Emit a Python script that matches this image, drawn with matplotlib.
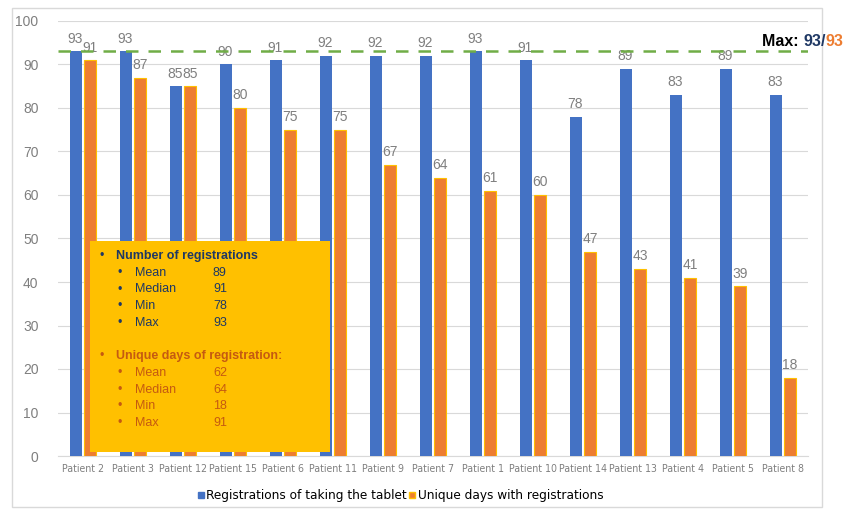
import numpy as np
import matplotlib
matplotlib.use("Agg")
import matplotlib.pyplot as plt
from matplotlib.patches import Rectangle
from matplotlib.lines import Line2D
from matplotlib.font_manager import FontProperties

patients = ["Patient 2", "Patient 3", "Patient 12", "Patient 15", "Patient 6", "Patient 11",
            "Patient 9", "Patient 7", "Patient 1", "Patient 10", "Patient 14", "Patient 13",
            "Patient 4", "Patient 5", "Patient 8"]
registrations = [93, 93, 85, 90, 91, 92, 92, 92, 93, 91, 78, 89, 83, 89, 83]
unique_days = [91, 87, 85, 80, 75, 75, 67, 64, 61, 60, 47, 43, 41, 39, 18]
max_line = 93

reg_stats = [("Mean", 89), ("Median", 91), ("Min", 78), ("Max", 93)]
day_stats = [("Mean", 62), ("Median", 64), ("Min", 18), ("Max", 91)]

plt.rcParams['font.family'] = ['Liberation Sans', 'DejaVu Sans']

blue = "#4472C4"
orange = "#ED7D31"
gold = "#FFC000"
gray = "#7F7F7F"
navy = "#1F3864"
brown = "#C55A11"

W, H = 853, 511
fig = plt.figure(figsize=(W / 100, H / 100), dpi=100)
ax = fig.add_axes([58 / W, 1 - 456 / H, 750 / W, 435 / H])

def fx(px):
    return px / W

def fy(py):
    return 1 - py / H

x = np.arange(len(patients))
b1 = ax.bar(x - 0.15, registrations, width=0.24, color=blue, zorder=3)
b2 = ax.bar(x + 0.14, unique_days, width=0.24, color=orange, edgecolor=gold, linewidth=0.8, zorder=3)
ax.bar_label(b1, padding=4, fontsize=10, color=gray)
ax.bar_label(b2, padding=4, fontsize=10, color=gray)

ax.axhline(max_line, color="#70AD47", linestyle=(0, (5, 4)), linewidth=1.8, zorder=4)

ax.set_xlim(-0.5, len(patients) - 0.5)
ax.set_ylim(0, 100)
ax.set_yticks(range(0, 101, 10))
ax.set_xticks(x)
ax.set_xticklabels(patients, fontsize=7.6, color=gray)
for lab in ax.get_xticklabels():
    lab.set_family('DejaVu Sans')
    lab.set_fontstretch('condensed')
ax.tick_params(axis='y', length=0, labelsize=10, labelcolor=gray, pad=14)
ax.tick_params(axis='x', length=0, pad=6)
ax.grid(axis='y', color="#D9D9D9", linewidth=0.8, zorder=0)
for s in ["top", "right", "left"]:
    ax.spines[s].set_visible(False)
ax.spines["bottom"].set_color("#D9D9D9")

# outer chart frame
fig.patches.append(Rectangle((12 / W, 1 - 507 / H), 810 / W, 499 / H, transform=fig.transFigure,
                             fill=False, edgecolor="#D9D9D9", linewidth=1))

# Max annotation, pieces placed one after another
renderer = fig.canvas.get_renderer()
px = 762
for s, c in [("Max: ", "black"), ("93", navy), ("/", navy), ("93", orange)]:
    t = fig.text(fx(px), fy(42), s, fontsize=11.5, fontweight="bold", color=c, va="center")
    px += t.get_window_extent(renderer).width

# statistics box
fig.patches.append(Rectangle((fx(90), fy(452)), (330 - 90) / W, (452 - 241) / H,
                             transform=fig.transFigure, facecolor=gold, edgecolor="none", zorder=5))

def box_text(px, py, s, color, bold=False):
    fig.text(fx(px), fy(py), s, fontsize=9, color=color, va="center", zorder=6,
             fontweight="bold" if bold else "normal")

box_text(100, 256, "•", navy)
box_text(116, 256, "Number of registrations", navy, bold=True)
for i, (k, v) in enumerate(reg_stats):
    py = 273 + i * 16.5
    box_text(118, py, "•", navy)
    box_text(135, py, k, navy)
    box_text(213, py, str(v), navy)
box_text(100, 356, "•", brown)
box_text(116, 356, "Unique days of registration:", brown, bold=True)
for i, (k, v) in enumerate(day_stats):
    py = 373 + i * 16.5
    box_text(118, py, "•", brown)
    box_text(135, py, k, brown)
    box_text(213, py, str(v), brown)

handles = [Line2D([], [], marker="s", linestyle="none", color=blue, markersize=5),
           Line2D([], [], marker="s", linestyle="none", color=orange, markeredgecolor=gold, markersize=5)]
fig.legend(handles, ["Registrations of taking the tablet", "Unique days with registrations"],
           loc="center", bbox_to_anchor=(fx(400), fy(496)), ncol=2, frameon=False,
           prop=FontProperties(family='DejaVu Sans', stretch='condensed', size=9.7),
           handletextpad=0.1, columnspacing=0.1, handlelength=0.6)

fig.savefig("out.png", dpi=100)
